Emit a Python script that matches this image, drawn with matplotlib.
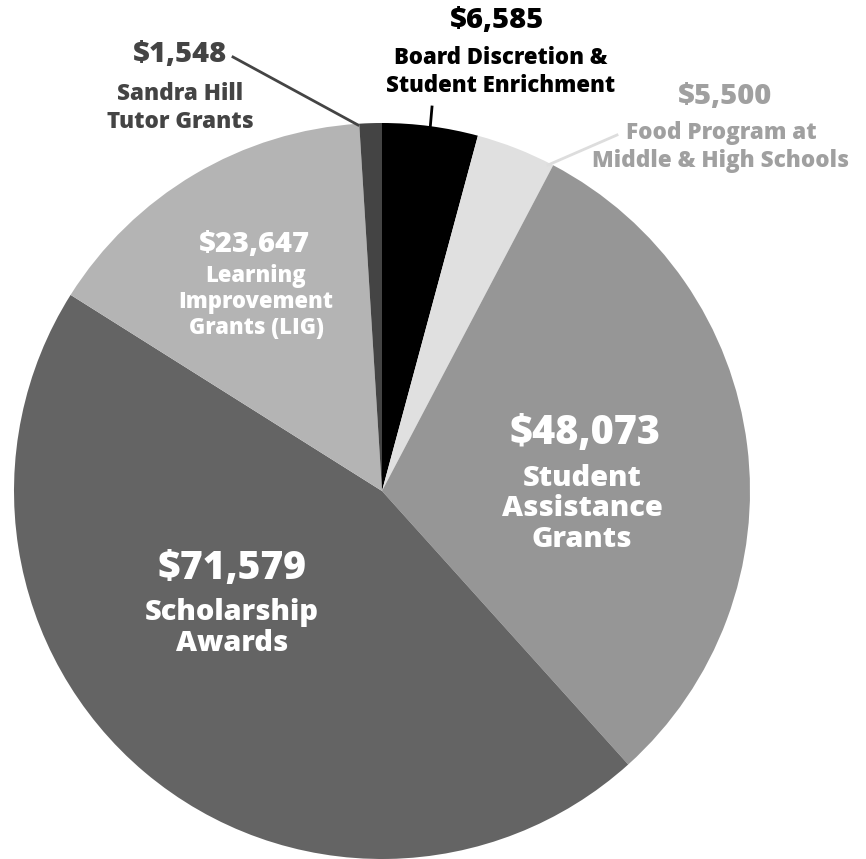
import matplotlib.pyplot as plt

plt.rcParams['font.family'] = ['Open Sans', 'DejaVu Sans']

# slices, clockwise from 12 o'clock
names = ["Board Discretion &\nStudent Enrichment",
         "Food Program at\nMiddle & High Schools",
         "Student\nAssistance\nGrants",
         "Scholarship\nAwards",
         "Learning\nImprovement\nGrants (LIG)",
         "Sandra Hill\nTutor Grants"]
values = [6585, 5500, 48073, 71579, 23647, 1548]
colors = ["#000000", "#e0e0e0", "#969696", "#646464", "#b4b4b4", "#444444"]

W, H = 866, 859
fig = plt.figure(figsize=(W / 100, H / 100), dpi=100)
ax = fig.add_axes([0, 0, 1, 1])

cx, cy, R = 382, H - 491, 368
ax.pie(values, colors=colors, startangle=90, counterclock=False,
       center=(cx, cy), radius=R, wedgeprops=dict(linewidth=0))
ax.set_xlim(0, W)
ax.set_ylim(0, H)
ax.set_aspect('equal')
ax.axis('off')


def px(s):
    return s * 72 / 100


def lab(x, y, s, size, color, ls=1.05):
    ax.text(x, H - y, s, ha='center', va='center', fontsize=px(size),
            fontweight=800, color=color, linespacing=ls)


def money(v):
    return "${:,}".format(v)


# leader lines (image pixel coordinates)
ax.plot([432, 430], [H - 107, H - 130], color="#000000", lw=2)
ax.plot([617, 548], [H - 135, H - 165], color="#dddddd", lw=2)
ax.plot([233, 358], [H - 57, H - 125], color="#444444", lw=2)

lab(497, 20, money(values[0]), 29, "#000000")
lab(501, 72, names[0], 22.2, "#000000", 1.26)

lab(725, 97, money(values[1]), 29, "#a0a0a0")
lab(721, 147, names[1], 22.5, "#a0a0a0", 1.24)

lab(585, 434, money(values[2]), 39.5, "white")
lab(582, 509, names[2], 29, "white", 1.09)

lab(232, 569, money(values[3]), 39, "white")
lab(232, 628, names[3], 29, "white", 1.05)

lab(254, 244, money(values[4]), 29, "white")
lab(256, 302, names[4], 22, "white", 1.13)

lab(180, 54, money(values[5]), 29, "#444444")
lab(180, 108, names[5], 22.5, "#444444", 1.24)

fig.savefig("out.png", dpi=100)
